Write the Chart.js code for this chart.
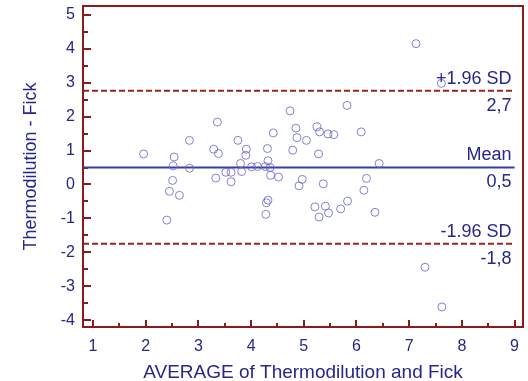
<!DOCTYPE html>
<html><head><meta charset="utf-8">
<script src="https://cdn.jsdelivr.net/npm/chart.js@4/dist/chart.umd.min.js"></script>
<style>html,body{margin:0;padding:0;background:#fff}</style>
</head><body>
<canvas id="c" width="528" height="381"></canvas>
<script>
// Data
const averageValues = [1.96,2.54,2.52,2.83,2.51,2.45,2.64,2.40,2.83,3.36,3.29,3.38,3.33,3.52,3.62,3.62,3.75,3.91,3.90,3.80,3.82,4.01,4.12,4.31,4.42,4.74,4.85,4.87,5.05,4.79,4.32,4.27,4.36,4.37,4.52,4.97,4.91,5.37,4.32,4.29,4.28,5.21,5.41,5.29,5.47,5.70,5.83,5.25,5.30,5.46,5.57,5.28,5.82,6.09,6.43,6.19,6.14,6.35,7.13,7.61,7.30,7.62];
const differenceValues = [0.90,0.81,0.55,0.48,0.12,-0.20,-0.32,-1.05,1.30,1.84,1.04,0.91,0.19,0.36,0.36,0.08,1.30,1.04,0.86,0.62,0.38,0.52,0.53,1.06,1.52,2.17,1.66,1.38,1.30,1.01,0.70,0.53,0.50,0.27,0.22,0.15,-0.04,0.02,-0.46,-0.54,-0.88,-0.66,-0.64,-0.96,-0.84,-0.72,-0.49,1.70,1.55,1.49,1.47,0.90,2.33,1.55,0.62,0.18,-0.17,-0.82,4.15,2.98,-2.44,-3.61];
const xTicks = [1,2,3,4,5,6,7,8,9];
const yTicks = [-4,-3,-2,-1,0,1,2,3,4,5];
const meanValue = 0.5;
const upperLimit = 2.76;
const lowerLimit = -1.75;
const lineRange = [0.81, 9];
const limitNames = ['+1.96 SD','Mean','-1.96 SD'];
const limitTexts = ['2,7','0,5','-1,8'];

const X_MIN = 0.81, X_MAX = 9.16, Y_MIN = -4.2, Y_MAX = 5.26;
const AXIS = '#8b1a1a', TEXT = '#26268c', FONT = "'Liberation Sans', Arial, sans-serif";

const points = averageValues.map((x,i)=>({x, y: differenceValues[i]}));
const hline = v => lineRange.map(x=>({x, y:v}));

const framePlugin = {
  id:'frame',
  beforeDatasetsDraw(chart){
    const {ctx, chartArea:a, scales:{x, y}} = chart;
    ctx.save();
    ctx.strokeStyle = AXIS; ctx.lineWidth = 2;
    ctx.strokeRect(a.left, a.top, a.right-a.left, a.bottom-a.top);
    ctx.beginPath();
    for (let v = Math.ceil(X_MIN*2)/2; v <= X_MAX; v += 0.5) {
      const px = Math.round(x.getPixelForValue(v));
      const len = Number.isInteger(v) ? 7 : 4;
      ctx.moveTo(px, a.bottom); ctx.lineTo(px, a.bottom-len);
    }
    for (let v = Math.ceil(Y_MIN*2)/2; v <= Y_MAX; v += 0.5) {
      const py = Math.round(y.getPixelForValue(v));
      const len = Number.isInteger(v) ? 8 : 5;
      ctx.moveTo(a.left, py); ctx.lineTo(a.left+len, py);
    }
    ctx.stroke();
    ctx.restore();
  },
  afterDatasetsDraw(chart){
    const {ctx, scales:{x, y}} = chart;
    ctx.save();
    ctx.fillStyle = TEXT; ctx.font = "18px " + FONT; ctx.textAlign = 'right';
    const vals = [upperLimit, meanValue, lowerLimit];
    const rx = x.getPixelForValue(lineRange[1]) - 3;
    vals.forEach((v,i)=>{
      const py = y.getPixelForValue(v);
      ctx.textBaseline = 'bottom'; ctx.fillText(limitNames[i], rx, py-3);
      ctx.textBaseline = 'top'; ctx.fillText(limitTexts[i], rx, py+6);
    });
    ctx.restore();
  }
};

new Chart(document.getElementById('c'), {
  type:'scatter',
  data:{datasets:[
    {data:points, pointRadius:4, pointHoverRadius:4, borderWidth:1, borderColor:'rgba(100,100,200,0.8)', backgroundColor:'rgba(255,255,255,0)', order:0},
    {type:'line', data:hline(meanValue), borderColor:'#3a3aa8', borderWidth:2, pointRadius:0, order:1},
    {type:'line', data:hline(upperLimit), borderColor:'#9a2424', borderWidth:2, borderDash:[6,3], pointRadius:0, order:1},
    {type:'line', data:hline(lowerLimit), borderColor:'#9a2424', borderWidth:2, borderDash:[6,3], pointRadius:0, order:1}
  ]},
  options:{
    responsive:false, animation:false, devicePixelRatio:1,
    layout:{padding:{top:6,right:3,left:0,bottom:0}},
    plugins:{legend:{display:false}, tooltip:{enabled:false}},
    scales:{
      x:{type:'linear', min:X_MIN, max:X_MAX,
        afterBuildTicks:s=>{s.ticks = xTicks.map(v=>({value:v}));},
        afterFit:s=>{s.height = 54; s.paddingLeft = 0; s.paddingRight = 0;},
        grid:{display:false, drawTicks:false}, border:{display:false},
        ticks:{color:TEXT, font:{family:FONT,size:16}, padding:10, maxRotation:0},
        title:{display:true, text:'AVERAGE of Thermodilution and Fick', color:TEXT, font:{family:FONT,size:19}, padding:{top:0,bottom:-3}}
      },
      y:{type:'linear', min:Y_MIN, max:Y_MAX,
        afterBuildTicks:s=>{s.ticks = yTicks.map(v=>({value:v}));},
        afterFit:s=>{s.width = 83; s.paddingTop = 0; s.paddingBottom = 0;},
        grid:{display:false, drawTicks:false}, border:{display:false},
        ticks:{color:TEXT, font:{family:FONT,size:16}, padding:8},
        title:{display:true, text:'Thermodilution - Fick', color:TEXT, font:{family:FONT,size:18}, padding:{top:20,bottom:0}}
      }
    }
  },
  plugins:[framePlugin]
});
</script>
</body></html>
